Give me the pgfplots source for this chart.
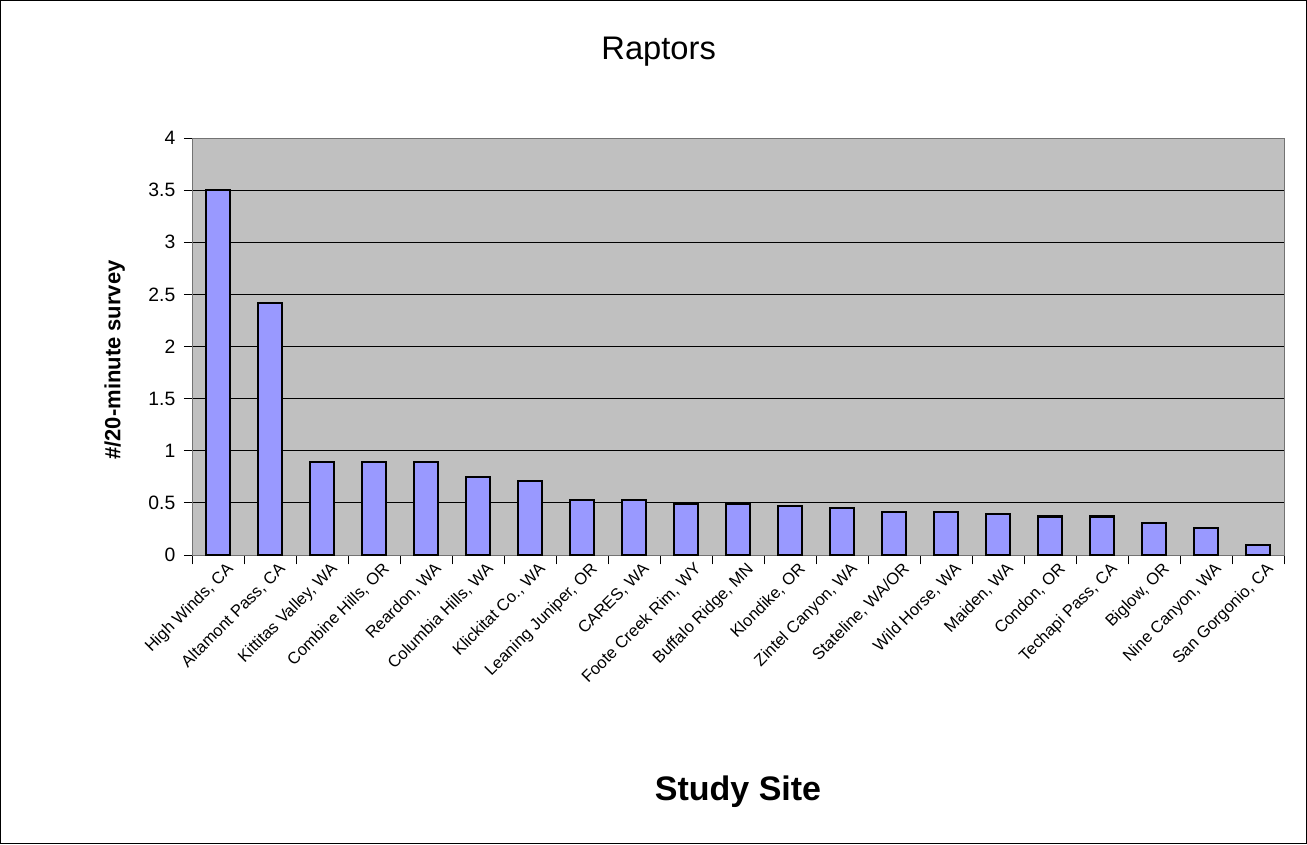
\documentclass[border=0pt]{standalone}
\usepackage{pgfplots}
\pgfplotsset{compat=1.18}
\usepackage{fontspec}
\setmainfont{Liberation Sans}
\definecolor{plotbg}{RGB}{192,192,192}
\definecolor{barfill}{RGB}{153,153,255}
\begin{document}
\begin{tikzpicture}
\useasboundingbox (0,0) rectangle (980.25pt,-633pt);
\draw[line width=0.8pt] (0.4pt,-0.4pt) rectangle (979.85pt,-632.6pt);
\node[font=\fontsize{24.5}{28}\selectfont] at (494pt,-39pt) {Raptors};
\node[font=\fontsize{16.5}{19}\selectfont\bfseries, rotate=90] at (86pt,-270pt) {\#/20-minute survey};
\node[font=\fontsize{25.5}{30}\selectfont\bfseries] at (553.5pt,-594pt) {Study Site};
\begin{axis}[
  at={(144pt,-416.25pt)}, anchor=south west,
  scale only axis, width=819pt, height=312.75pt,
  xmin=-0.5, xmax=20.5, ymin=0, ymax=4,
  axis background/.style={fill=plotbg},
  axis line style={draw=black!55, line width=0.7pt},
  ybar, bar width=0.45,
  xtick={0,...,20},
  xtick pos=bottom, ytick pos=left,
  major x tick style={draw=none},
  minor xtick={-0.5,0.5,...,20.5},
  minor tick length=7pt,
  xticklabels={{High Winds, CA},{Altamont Pass, CA},{Kittitas Valley, WA},{Combine Hills, OR},{Reardon, WA},{Columbia Hills, WA},{Klickitat Co., WA},{Leaning Juniper, OR},{CARES, WA},{Foote Creek Rim, WY},{Buffalo Ridge, MN},{Klondike, OR},{Zintel Canyon, WA},{Stateline, WA/OR},{Wild Horse, WA},{Maiden, WA},{Condon, OR},{Techapi Pass, CA},{Biglow, OR},{Nine Canyon, WA},{San Gorgonio, CA}},
  xticklabel style={rotate=45, anchor=north east, font=\fontsize{12.4}{14}\selectfont, inner sep=1pt, xshift=6pt, yshift=-2pt},
  ytick={0,0.5,...,4},
  yticklabel style={font=\fontsize{14.5}{16}\selectfont, xshift=-3pt},
  /pgf/number format/assume math mode=true,
  tick align=outside,
  major tick length=6pt,
  ymajorgrids, grid style={black, line width=0.6pt},
  tick style={black, line width=0.7pt},
  clip=false,
]
\addplot[fill=barfill, draw=black, line width=1.6pt] coordinates {
(0,3.50) (1,2.42) (2,0.89) (3,0.89) (4,0.89) (5,0.75) (6,0.71) (7,0.53) (8,0.53) (9,0.49) (10,0.49) (11,0.47) (12,0.45) (13,0.41) (14,0.41) (15,0.39) (16,0.37) (17,0.37) (18,0.31) (19,0.26) (20,0.10)
};
\end{axis}
\end{tikzpicture}
\end{document}
